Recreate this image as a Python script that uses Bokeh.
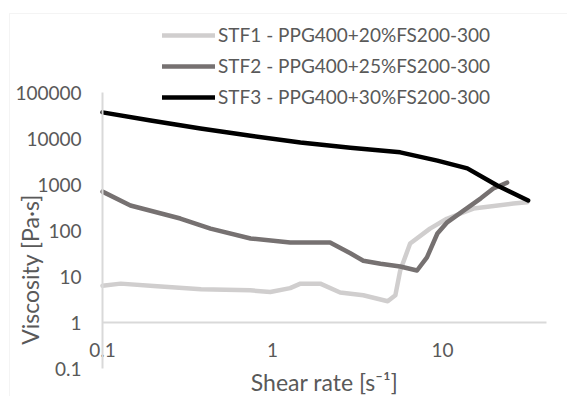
import math
from bokeh.plotting import figure
from bokeh.models import Range1d, FixedTicker, Legend, LegendItem, Label, BoxAnnotation
from bokeh.embed import file_html
from bokeh.resources import INLINE

# ---- data ----
shear_stf1 = [0.1, 0.128, 0.2, 0.38, 0.74, 0.97, 1.27, 1.46, 1.91, 2.5, 3.42, 4.76, 5.28, 5.64, 6.45, 8.44, 10.6, 15.2, 26.1, 31.5]
visc_stf1 = [6.3, 7.0, 6.2, 5.3, 5.0, 4.6, 5.6, 7.0, 7.0, 4.5, 3.9, 2.9, 3.9, 13.5, 52, 110, 180, 300, 385, 410]

shear_stf2 = [0.1, 0.146, 0.287, 0.432, 0.743, 1.27, 2.18, 2.87, 3.42, 4.32, 5.64, 7.08, 8.10, 9.33, 10.6, 13.3, 16.8, 19.9, 24.0]
visc_stf2 = [700, 350, 182, 110, 67, 55, 55, 32, 22, 19, 16.5, 13.5, 26, 86, 148, 270, 500, 820, 1100]

shear_stf3 = [0.1, 0.192, 0.377, 0.743, 1.46, 2.87, 5.64, 9.33, 14.0, 21.0, 31.9]
visc_stf3 = [37000, 24600, 16500, 11500, 8200, 6300, 5000, 3300, 2240, 950, 450]

series_names = ["STF1 - PPG400+20%FS200-300", "STF2 - PPG400+25%FS200-300", "STF3 - PPG400+30%FS200-300"]
series_colors = ["#d0cece", "#767171", "#000000"]

x_ticks = [0.1, 1, 10]
x_tick_labels = ["0.1", "1", "10"]
y_ticks = [0.1, 1, 10, 100, 1000, 10000, 100000]
y_tick_labels = ["0.1", "1", "10", "100", "1000", "10000", "100000"]
x_axis_extent = (0.1, 41)
y_axis_extent = (0.1, 100000)

x_title = "Shear rate [s\u207b\u00b9]"
y_title = "Viscosity [Pa\u00b7s]"

# ---- layout geometry (pixels) ----
W, H = 567, 396
X0_PX, X_DEC = 102, 170      # pixel of x=0.1, pixels per decade
Y1_PX, Y_DEC = 322, 46       # pixel of y=1, pixels per decade

x_lo = 0.1 * 10 ** (-X0_PX / X_DEC)
x_hi = 0.1 * 10 ** ((W - X0_PX) / X_DEC)
y_hi = 10 ** (Y1_PX / Y_DEC)
y_lo = 10 ** ((Y1_PX - H) / Y_DEC)

FONT = "Lato"
TXT = "#595959"
AX = "#d9d9d9"
FS = "19px"

p = figure(width=W, height=H, x_axis_type="log", y_axis_type="log",
           x_range=Range1d(x_lo, x_hi), y_range=Range1d(y_lo, y_hi),
           output_backend="svg", toolbar_location=None, min_border=0)
p.title.visible = False
p.outline_line_color = None
p.xgrid.visible = False
p.ygrid.visible = False
p.background_fill_color = "white"
p.border_fill_color = "white"

for ax in (p.xaxis[0], p.yaxis[0]):
    ax.axis_line_color = AX
    ax.axis_line_width = 2
    ax.major_tick_line_color = None
    ax.minor_tick_line_color = None
    ax.major_tick_out = 0
    ax.major_tick_in = 0
    ax.minor_tick_out = 0
    ax.minor_tick_in = 0
    ax.major_label_text_font = FONT
    ax.major_label_text_font_size = FS
    ax.major_label_text_color = TXT

# y axis crossing at x = 0.1
p.yaxis.ticker = FixedTicker(ticks=y_ticks)
p.yaxis.major_label_overrides = {t: l for t, l in zip(y_ticks, y_tick_labels)}
p.yaxis.fixed_location = x_ticks[0]
p.yaxis.bounds = y_axis_extent
p.yaxis.major_label_standoff = 21

# x axis crossing at y = 1
p.xaxis.ticker = FixedTicker(ticks=x_ticks)
p.xaxis.major_label_overrides = {t: l for t, l in zip(x_ticks, x_tick_labels)}
p.xaxis.fixed_location = 1
p.xaxis.bounds = x_axis_extent
p.xaxis.major_label_standoff = 20

renderers = []
for xs, ys, c in zip([shear_stf1, shear_stf2, shear_stf3], [visc_stf1, visc_stf2, visc_stf3], series_colors):
    r = p.line(xs, ys, line_color=c, line_width=4.5, line_join="round", line_cap="round")
    renderers.append(r)

legend = Legend(items=[LegendItem(label=n, renderers=[r]) for n, r in zip(series_names, renderers)],
                location=(162, H - 108), glyph_width=53, glyph_height=22, label_height=22,
                label_standoff=3, spacing=8, padding=0, margin=0,
                border_line_color=None, background_fill_alpha=0,
                label_text_font=FONT, label_text_font_size=FS, label_text_color=TXT)
p.add_layout(legend)

p.add_layout(Label(x=324, y=H - 381, x_units="screen", y_units="screen", text=x_title,
                   text_align="center", text_baseline="middle", text_font=FONT,
                   text_font_size="23px", text_color=TXT))
p.add_layout(Label(x=29, y=H - 269, x_units="screen", y_units="screen", text=y_title,
                   angle=math.pi / 2, text_align="center", text_baseline="middle", text_font=FONT,
                   text_font_size="23px", text_color=TXT))

# light chart-area border (top and left edges visible)
p.add_layout(BoxAnnotation(left=0.1 * 10 ** ((9 - X0_PX) / X_DEC), right=1e4,
                           top=10 ** ((Y1_PX - 13) / Y_DEC), bottom=1e-4,
                           fill_alpha=0, line_color=AX, line_width=1))

open("out.html", "w").write(file_html(p, INLINE))
